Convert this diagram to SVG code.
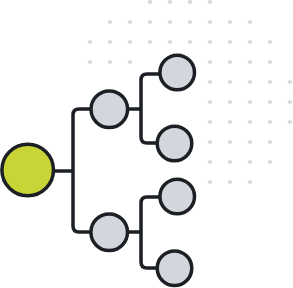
<svg xmlns="http://www.w3.org/2000/svg" width="293" height="288" viewBox="0 0 293 288">
<style>
.dot{fill:#d6d8df}
.conn{fill:none;stroke:#1c2024;stroke-width:3.5;stroke-linecap:butt;stroke-linejoin:round}
.node{fill:#d3d6dd;stroke:#1c2024;stroke-width:3.5}
.root{fill:#c9d436;stroke:#1c2024;stroke-width:3.5}
</style>
<defs><circle id="d" r="2.1" class="dot"/></defs>
<g id="dots">
<use href="#d" x="150" y="2"/><use href="#d" x="170" y="2"/><use href="#d" x="190" y="2"/><use href="#d" x="210" y="2"/>
<use href="#d" x="110" y="22"/><use href="#d" x="130" y="22"/><use href="#d" x="150" y="22"/><use href="#d" x="170" y="22"/><use href="#d" x="190" y="22"/><use href="#d" x="210" y="22"/><use href="#d" x="230" y="22"/><use href="#d" x="250" y="22"/>
<use href="#d" x="90" y="42"/><use href="#d" x="110" y="42"/><use href="#d" x="130" y="42"/><use href="#d" x="150" y="42"/><use href="#d" x="170" y="42"/><use href="#d" x="190" y="42"/><use href="#d" x="210" y="42"/><use href="#d" x="230" y="42"/><use href="#d" x="250" y="42"/><use href="#d" x="270" y="42"/>
<use href="#d" x="90" y="62"/><use href="#d" x="110" y="62"/><use href="#d" x="130" y="62"/><use href="#d" x="210" y="62"/><use href="#d" x="230" y="62"/><use href="#d" x="250" y="62"/><use href="#d" x="270" y="62"/>
<use href="#d" x="210" y="82"/><use href="#d" x="230" y="82"/><use href="#d" x="250" y="82"/><use href="#d" x="270" y="82"/><use href="#d" x="290" y="82"/>
<use href="#d" x="210" y="102"/><use href="#d" x="230" y="102"/><use href="#d" x="250" y="102"/><use href="#d" x="270" y="102"/><use href="#d" x="290" y="102"/>
<use href="#d" x="210" y="122"/><use href="#d" x="230" y="122"/><use href="#d" x="250" y="122"/><use href="#d" x="270" y="122"/><use href="#d" x="290" y="122"/>
<use href="#d" x="210" y="142"/><use href="#d" x="230" y="142"/><use href="#d" x="250" y="142"/><use href="#d" x="270" y="142"/>
<use href="#d" x="210" y="162"/><use href="#d" x="230" y="162"/><use href="#d" x="250" y="162"/><use href="#d" x="270" y="162"/>
<use href="#d" x="210" y="182"/><use href="#d" x="230" y="182"/><use href="#d" x="250" y="182"/>
</g>
<g id="connectors">
<path class="conn" d="M52 171 H73"/>
<path class="conn" d="M92 109 H79 Q73 109 73 115 V226 Q73 232 79 232 H92"/>
<path class="conn" d="M126 109 H141"/>
<path class="conn" d="M160 74 H147 Q141 74 141 80 V137 Q141 143 147 143 H158"/>
<path class="conn" d="M126 232 H141"/>
<path class="conn" d="M160 197 H147 Q141 197 141 203 V262 Q141 268 147 268 H158"/>
</g>
<g id="root"><circle class="root" cx="27.7" cy="170" r="25.8"/></g>
<g id="mid1"><circle class="node" cx="109.3" cy="109.2" r="18.3"/></g>
<g id="mid2"><circle class="node" cx="109.2" cy="232.3" r="18.3"/></g>
<g id="leaf1"><circle class="node" cx="177.2" cy="72.5" r="17.3"/></g>
<g id="leaf2"><circle class="node" cx="174.5" cy="143.5" r="17.3"/></g>
<g id="leaf3"><circle class="node" cx="177.2" cy="196.5" r="17.3"/></g>
<g id="leaf4"><circle class="node" cx="174.5" cy="268.2" r="17.3"/></g>
</svg>
